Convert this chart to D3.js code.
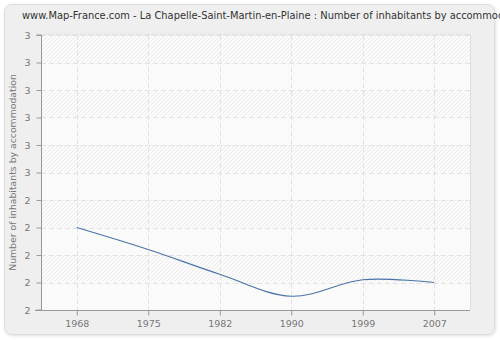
<!DOCTYPE html>
<html><head><meta charset="utf-8">
<script src="https://cdn.jsdelivr.net/npm/d3@7"></script>
<style>body{margin:0;background:#fff}svg{display:block}</style>
</head><body>
<script>
const title = "www.Map-France.com - La Chapelle-Saint-Martin-en-Plaine : Number of inhabitants by accommodation";
const yTitle = "Number of inhabitants by accommodation";
const years = ["1968","1975","1982","1990","1999","2007"];
const values = [2.30, 2.22, 2.13, 2.05, 2.11, 2.10];
const yTicks = [2.0,2.1,2.2,2.3,2.4,2.5,2.6,2.7,2.8,2.9,3.0];
const yTickLabels = ["2","2","2","2","2","3","3","3","3","3","3"];

const W=500,H=340;
const svg=d3.select("body").append("svg").attr("width",W).attr("height",H);
const defs=svg.append("defs");
const f=defs.append("filter").attr("id","sh").attr("x","-5%").attr("y","-5%").attr("width","110%").attr("height","110%");
f.append("feDropShadow").attr("dx",1).attr("dy",1).attr("stdDeviation",1.5).attr("flood-color","#000").attr("flood-opacity",0.12);
const p=defs.append("pattern").attr("id","hatch").attr("width",4).attr("height",4).attr("patternUnits","userSpaceOnUse");
p.append("rect").attr("width",4).attr("height",4).attr("fill","#fbfbfb");
p.append("path").attr("d","M-1,1 l2,-2 M0,4 l4,-4 M3,5 l2,-2").attr("stroke","#ebebeb").attr("stroke-width",1);

svg.append("rect").attr("x",4.5).attr("y",4.5).attr("width",490).attr("height",330).attr("rx",7)
  .attr("fill","#efefef").attr("stroke","#dcdcdc").attr("filter","url(#sh)");

const L=41,R=470,T=35,B=310;
const x=d3.scalePoint().domain(years).range([L,R]).padding(0.5);
const y=d3.scaleLinear().domain([2,3]).range([B,T]);

svg.append("rect").attr("x",L).attr("y",T).attr("width",R-L).attr("height",B-T).attr("fill","url(#hatch)");
for(let i=0;i<yTicks.length-1;i++){
  if(i%2===0){
    svg.append("rect").attr("x",L).attr("y",y(yTicks[i+1])).attr("width",R-L)
      .attr("height",y(yTicks[i])-y(yTicks[i+1])).attr("fill","#fafafa").attr("opacity",0.85);
  }
}
svg.append("line").attr("x1",R+0.5).attr("x2",R+0.5).attr("y1",T).attr("y2",B).attr("stroke","#dddddd");
svg.append("line").attr("x1",L).attr("x2",R).attr("y1",T-0.5).attr("y2",T-0.5).attr("stroke","#e4e4e4");

const g=svg.append("g");
g.selectAll(".hg").data(yTicks.slice(1)).join("line")
  .attr("x1",L).attr("x2",R).attr("y1",d=>Math.round(y(d))+0.5).attr("y2",d=>Math.round(y(d))+0.5)
  .attr("stroke","#e2e2e2").attr("stroke-dasharray","5,3");
g.selectAll(".vg").data(years).join("line")
  .attr("x1",d=>Math.round(x(d))+0.5).attr("x2",d=>Math.round(x(d))+0.5).attr("y1",T).attr("y2",B)
  .attr("stroke","#e2e2e2").attr("stroke-dasharray","5,3");

const yAxis=d3.axisLeft(y).tickValues(yTicks).tickFormat((d,i)=>yTickLabels[i]).tickSize(5).tickPadding(6);
const ya=svg.append("g").attr("transform",`translate(${L+0.5},0)`).call(yAxis);
const xAxis=d3.axisBottom(x).tickSize(5).tickPadding(5).tickSizeOuter(0);
const xa=svg.append("g").attr("transform",`translate(0,${B+0.5})`).call(xAxis);
[ya,xa].forEach(a=>{
  a.select(".domain").attr("stroke","#999");
  a.selectAll(".tick line").attr("stroke","#999");
  a.selectAll("text").attr("fill","#777").style("font-family","DejaVu Sans, Verdana, sans-serif").style("font-size","9.5px");
});
ya.select(".domain").attr("d",`M-5,${B}H0V${T}H-5`);
xa.select(".domain").attr("d",`M${L-6},0H${R}`);

const line=d3.line().x((d,i)=>x(years[i])).y(d=>y(d)).curve(d3.curveCatmullRom.alpha(0.5));
svg.append("path").datum(values).attr("d",line).attr("fill","none").attr("stroke","#4a73a9").attr("stroke-width",1.1);

svg.append("text").attr("x",22).attr("y",19).text(title)
  .style("font-family","DejaVu Sans, Verdana, sans-serif").style("font-size","9.9px").attr("fill","#333");
svg.append("text").attr("transform",`translate(16,${(T+B)/2}) rotate(-90)`).attr("text-anchor","middle").text(yTitle)
  .style("font-family","DejaVu Sans, Verdana, sans-serif").style("font-size","9.3px").attr("fill","#777");
</script>
</body></html>
